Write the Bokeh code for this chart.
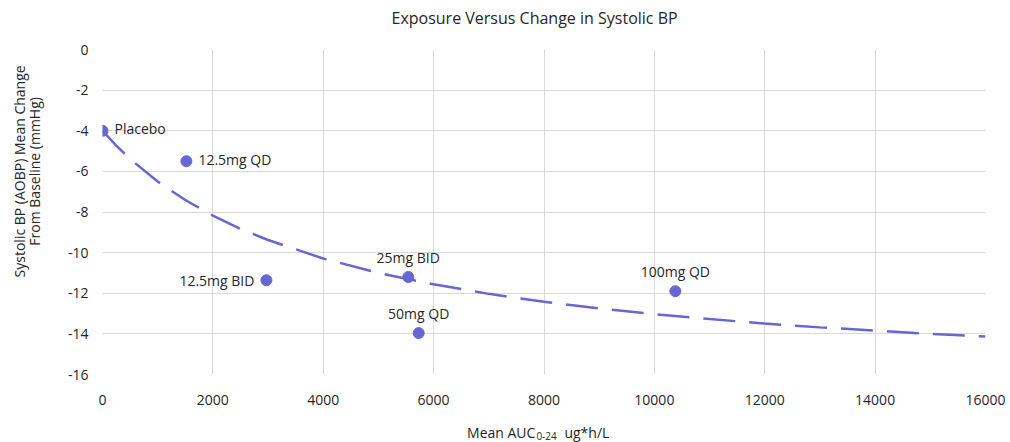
from bokeh.plotting import figure
from bokeh.models import (ColumnDataSource, Range1d, FixedTicker, PrintfTickFormatter,
                          Label, Title)
from bokeh.layouts import column, row
from bokeh.embed import file_html
from bokeh.resources import INLINE
from bokeh.core.properties import value

# ---- data ----
doses = ["Placebo", "12.5mg QD", "12.5mg BID", "25mg BID", "50mg QD", "100mg QD"]
auc = [0, 1520, 2970, 5540, 5730, 10380]
sbp_change = [-4.0, -5.5, -11.36, -11.2, -13.96, -11.9]

curve_auc = [0, 250, 500, 1000, 1500, 2000, 2500, 3000, 4000, 5000, 6000, 7000,
             8000, 9000, 10000, 11000, 12000, 13000, 14000, 15000, 16000]
curve_sbp = [-4.0, -4.73, -5.39, -6.50, -7.41, -8.18, -8.83, -9.38, -10.29, -11.00,
             -11.56, -12.03, -12.42, -12.75, -13.03, -13.27, -13.49, -13.68, -13.84,
             -14.00, -14.13]

x_ticks = [0, 2000, 4000, 6000, 8000, 10000, 12000, 14000, 16000]
y_ticks = [0, -2, -4, -6, -8, -10, -12, -14, -16]

title_text = "Exposure Versus Change in Systolic BP"
y_label_lines = ["Systolic BP (AOBP) Mean Change", "From Baseline (mmHg)"]
x_label_parts = ["Mean AUC", "0-24", "ug*h/L"]

# ---- styling ----
FONT = "Open Sans"
COLOR = "#6767D4"
TEXT = "#262626"
GRID = "#D9D9D9"

label_side = ["right", "right", "left", "above", "above", "above"]
align_map = {"right": "left", "left": "right", "above": "center"}
xoff_map = {"right": 12, "left": -12, "above": 0}
yoff_map = {"right": -2, "left": 0, "above": -20}

x_range = Range1d(0, 16000)
y_range = Range1d(-16, 0)

# ---- main plot ----
p = figure(width=962, height=410, output_backend="svg", toolbar_location=None,
           x_range=x_range, y_range=y_range, title=None,
           min_border_left=54, min_border_right=25, min_border_top=49,
           min_border_bottom=36)

# an empty spacer title next to the frame lifts the real title upwards
p.add_layout(Title(text=" ", text_font=FONT, text_font_size="14px", standoff=0), "above")
p.add_layout(Title(text=title_text, align="left", offset=289, standoff=0,
                   text_font=FONT, text_font_size="16px", text_font_style="normal",
                   text_color=TEXT), "above")

for ax in (p.xaxis[0], p.yaxis[0]):
    ax.axis_line_color = None
    ax.major_tick_line_color = None
    ax.minor_tick_line_color = None
    ax.major_label_text_font = FONT
    ax.major_label_text_font_size = "14px"
    ax.major_label_text_color = TEXT
    ax.formatter = PrintfTickFormatter(format="%d")
p.xaxis.ticker = FixedTicker(ticks=x_ticks)
p.yaxis.ticker = FixedTicker(ticks=y_ticks)
p.xaxis.major_label_standoff = 14
p.yaxis.major_label_standoff = 8

p.xgrid.ticker = FixedTicker(ticks=x_ticks)
p.ygrid.ticker = FixedTicker(ticks=y_ticks)
p.xgrid.grid_line_color = GRID
p.ygrid.grid_line_color = GRID
p.outline_line_color = None

p.line(curve_auc, curve_sbp, line_color=COLOR, line_width=2.5, line_dash="32 14")

src = ColumnDataSource(dict(
    x=auc, y=sbp_change, name=doses,
    align=[align_map[s] for s in label_side],
    xo=[xoff_map[s] for s in label_side],
    yo=[yoff_map[s] for s in label_side],
))
p.scatter("x", "y", source=src, size=11, color=COLOR)
p.text("x", "y", text="name", source=src, text_align="align", text_baseline="middle",
       x_offset="xo", y_offset="yo", text_font=value(FONT), text_font_size="14px",
       text_color=TEXT)

# ---- y-axis title panel (left) ----
left = figure(width=48, height=410, output_backend="svg", toolbar_location=None,
              x_range=Range1d(0, 48), y_range=y_range,
              min_border_left=0, min_border_right=0, min_border_top=49,
              min_border_bottom=36)
left.axis.visible = False
left.grid.visible = False
left.outline_line_color = None
left.text(x=[19, 34], y=[-6.0, -6.0], text=y_label_lines, angle=1.5707963,
          text_align="center", text_baseline="middle", text_font=value(FONT),
          text_font_size="14px", text_color=TEXT)

# ---- x-axis title panel (bottom) ----
bottom = figure(width=1010, height=32, output_backend="svg", toolbar_location=None,
                x_range=x_range, y_range=Range1d(0, 32),
                min_border_left=102, min_border_right=25, min_border_top=0,
                min_border_bottom=0)
bottom.axis.visible = False
bottom.grid.visible = False
bottom.outline_line_color = None
xl_anchor = 7844
for txt, yy, xo, size, al in zip(x_label_parts, [10, 7, 10], [0, 1, 29],
                                 ["14px", "10px", "14px"], ["right", "left", "left"]):
    bottom.add_layout(Label(x=xl_anchor, y=yy, x_offset=xo, text=txt, text_font=FONT,
                            text_font_size=size, text_align=al,
                            text_baseline="alphabetic", text_color=TEXT))

layout = column(row(left, p), bottom)
open("out.html", "w").write(file_html(layout, INLINE))
